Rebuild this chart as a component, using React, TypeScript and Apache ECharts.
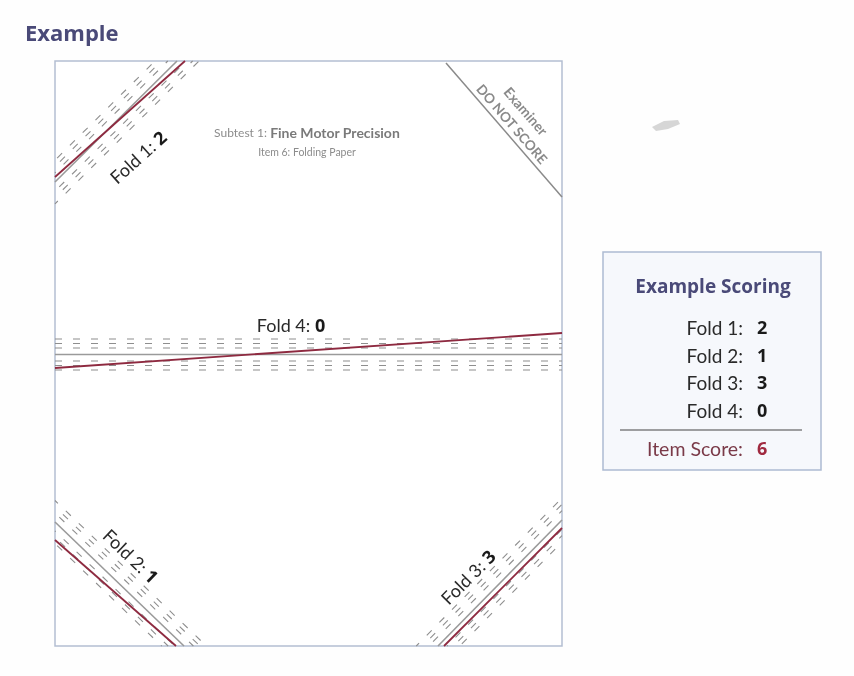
import React, { useEffect, useRef } from "react";
import * as echarts from "echarts";

// ---- data ----
const foldNames = ["Fold 1", "Fold 2", "Fold 3", "Fold 4"];
const foldScores = [2, 1, 3, 0];
const itemScore = 6;
const pageTitle = "Example";
const subtestLabel = "Subtest 1: ";
const subtestName = "Fine Motor Precision";
const itemLabel = "Item 6: Folding Paper";
const scoringTitle = "Example Scoring";
const itemScoreLabel = "Item Score:";
const examinerLines = ["Examiner", "DO NOT SCORE"];

const W = 854;
const H = 676;
const FONT = "Lato, 'Noto Sans', sans-serif";
const BOLDFONT = "'Open Sans', 'Noto Sans', sans-serif";

// paper rectangle
const L = 55, T = 61, R = 562, B = 646;
const DASH = [7, 11];
const PERIOD = DASH[0] + DASH[1];

// clip infinite line through (px,py) dir (dx,dy) to paper rect
function clip(px: number, py: number, dx: number, dy: number) {
  let t0 = -1e6, t1 = 1e6;
  const p = [-dx, dx, -dy, dy];
  const q = [px - L, R - px, py - T, B - py];
  for (let i = 0; i < 4; i++) {
    if (Math.abs(p[i]) < 1e-9) continue;
    const r = q[i] / p[i];
    if (p[i] < 0) t0 = Math.max(t0, r);
    else t1 = Math.min(t1, r);
  }
  return { t0, shape: { x1: px + dx * t0, y1: py + dy * t0, x2: px + dx * t1, y2: py + dy * t1 } };
}

type FoldGeo = { g: number[]; red: number[]; label: number[]; rot: number };
const foldGeo: FoldGeo[] = [
  { g: [55, 182, 177, 61], red: [55, 177, 185, 61], label: [138, 157], rot: Math.PI / 4 - 0.05 },
  { g: [55, 522, 184, 646], red: [55, 540, 176, 646], label: [131, 556], rot: -Math.PI / 4 + 0.02 },
  { g: [438, 646, 562, 520], red: [444, 646, 562, 528], label: [468, 577], rot: Math.PI / 4 },
  { g: [55, 354.5, 562, 354.5], red: [55, 368, 562, 333], label: [291, 325], rot: 0 },
];

const offsets = [6.5, 11, 15.5];

function buildGraphics() {
  const els: any[] = [];
  els.push({ type: "rect", shape: { x: 0, y: 0, width: W, height: H }, style: { fill: "#fefefe" }, silent: true });
  els.push({
    type: "text", x: 25, y: 32,
    style: { text: pageTitle, font: `bold 22px ${BOLDFONT}`, fill: "#4a4a78", verticalAlign: "middle", align: "left" },
  });
  els.push({
    type: "rect", shape: { x: L, y: T, width: R - L, height: B - T },
    style: { fill: "#ffffff", stroke: "#b4bfd2", lineWidth: 1.5 },
  });
  els.push({
    type: "text", x: 307, y: 132,
    style: {
      text: `{a|${subtestLabel}}{b|${subtestName}}`, align: "center", verticalAlign: "middle",
      rich: {
        a: { fontFamily: FONT, fontSize: 12, fill: "#8c8c8c" },
        b: { fontFamily: FONT, fontSize: 14, fontWeight: "bold", fill: "#7a7a7a" },
      },
    },
  });
  els.push({
    type: "text", x: 307, y: 152,
    style: { text: itemLabel, font: `10.5px ${FONT}`, fill: "#8c8c8c", align: "center", verticalAlign: "middle" },
  });
  // examiner corner
  els.push({ type: "line", shape: { x1: 446, y1: 63, x2: 562, y2: 197 }, style: { stroke: "#8a8a8a", lineWidth: 1.5 } });
  const ang = -Math.atan2(134, 116);
  els.push({
    type: "text", x: 526, y: 111, rotation: ang,
    style: { text: examinerLines[0], font: `bold 14px ${FONT}`, fill: "#8a8a8a", align: "center", verticalAlign: "middle" },
  });
  els.push({
    type: "text", x: 512, y: 124, rotation: ang,
    style: { text: examinerLines[1], font: `bold 13.5px ${FONT}`, fill: "#8a8a8a", align: "center", verticalAlign: "middle" },
  });

  // folds
  foldGeo.forEach((f, i) => {
    const [ax, ay, bx, by] = f.g;
    let dx = bx - ax, dy = by - ay;
    const len = Math.hypot(dx, dy);
    dx /= len; dy /= len;
    const nx = -dy, ny = dx;
    offsets.forEach((o) => {
      [o, -o].forEach((s) => {
        const c = clip(ax + nx * s, ay + ny * s, dx, dy);
        const off = ((c.t0 % PERIOD) + PERIOD) % PERIOD;
        els.push({
          type: "line", shape: c.shape,
          style: { stroke: "#8e8e8e", lineWidth: 1.1, lineDash: DASH, lineDashOffset: off },
        });
      });
    });
    els.push({ type: "line", shape: clip(ax, ay, dx, dy).shape, style: { stroke: "#9a9a9a", lineWidth: 1.6 } });
    const [rx1, ry1, rx2, ry2] = f.red;
    els.push({ type: "line", shape: { x1: rx1, y1: ry1, x2: rx2, y2: ry2 }, style: { stroke: "#8e2a40", lineWidth: 1.8 } });
    els.push({
      type: "text", x: f.label[0], y: f.label[1], rotation: f.rot,
      style: {
        text: `{a|${foldNames[i]}: }{b|${foldScores[i]}}`, align: "center", verticalAlign: "middle",
        rich: {
          a: { fontFamily: FONT, fontSize: 18, fill: "#2a2a2a" },
          b: { fontFamily: BOLDFONT, fontSize: 18, fontWeight: "bold", fill: "#1a1a1a" },
        },
      },
    });
  });

  // smudge
  els.push({
    type: "polygon",
    shape: { points: [[652, 127], [664, 121], [678, 120], [680, 124], [668, 129], [656, 131]] },
    style: { fill: "#d6d6d6" },
  });

  // scoring box
  els.push({
    type: "rect", shape: { x: 603, y: 252, width: 218, height: 218 },
    style: { fill: "#f6f8fc", stroke: "#adbbd2", lineWidth: 1.5 },
  });
  els.push({
    type: "text", x: 713, y: 286,
    style: { text: scoringTitle, font: `bold 19px ${BOLDFONT}`, fill: "#4a4a78", align: "center", verticalAlign: "middle" },
  });
  const rowY = [327, 355, 382, 410];
  foldNames.forEach((n, i) => {
    els.push({
      type: "text", x: 743, y: rowY[i],
      style: { text: `${n}:`, font: `19px ${FONT}`, fill: "#2a2a2a", align: "right", verticalAlign: "middle" },
    });
    els.push({
      type: "text", x: 757, y: rowY[i],
      style: { text: String(foldScores[i]), font: `bold 18px ${BOLDFONT}`, fill: "#1a1a1a", align: "left", verticalAlign: "middle" },
    });
  });
  els.push({ type: "line", shape: { x1: 620, y1: 430, x2: 802, y2: 430 }, style: { stroke: "#444", lineWidth: 1.2 } });
  els.push({
    type: "text", x: 743, y: 448,
    style: { text: itemScoreLabel, font: `19.5px ${FONT}`, fill: "#7a3a48", align: "right", verticalAlign: "middle" },
  });
  els.push({
    type: "text", x: 757, y: 448,
    style: { text: String(itemScore), font: `bold 18px ${BOLDFONT}`, fill: "#a02a40", align: "left", verticalAlign: "middle" },
  });
  return els;
}

export default function App() {
  const ref = useRef<HTMLDivElement>(null);
  useEffect(() => {
    if (!ref.current) return;
    const chart = echarts.init(ref.current, null, { renderer: "svg" });
    chart.setOption({ animation: false, graphic: { elements: buildGraphics() } });
    return () => chart.dispose();
  }, []);
  return <div ref={ref} style={{ position: "fixed", left: 0, top: 0, width: W, height: H }} />;
}
